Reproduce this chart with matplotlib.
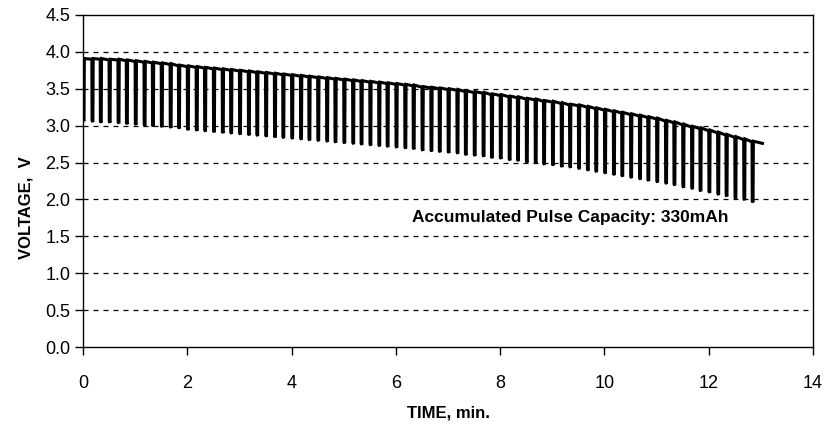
import matplotlib
matplotlib.use("Agg")
import matplotlib.pyplot as plt

# pulse discharge trace
# pulse start times (min), one 10 s pulse cycle each
pulse_time = [0.00, 0.17, 0.33, 0.50, 0.67, 0.83, 1.00, 1.17, 1.33, 1.50,
              1.67, 1.83, 2.00, 2.17, 2.33, 2.50, 2.67, 2.83, 3.00, 3.17,
              3.33, 3.50, 3.67, 3.83, 4.00, 4.17, 4.33, 4.50, 4.67, 4.83,
              5.00, 5.17, 5.33, 5.50, 5.67, 5.83, 6.00, 6.17, 6.33, 6.50,
              6.67, 6.83, 7.00, 7.17, 7.33, 7.50, 7.67, 7.83, 8.00, 8.17,
              8.33, 8.50, 8.67, 8.83, 9.00, 9.17, 9.33, 9.50, 9.67, 9.83,
              10.00, 10.17, 10.33, 10.50, 10.67, 10.83, 11.00, 11.17, 11.33, 11.50,
              11.67, 11.83, 12.00, 12.17, 12.33, 12.50, 12.67, 12.83]

# rest voltage just before each pulse (V)
rest_v = [3.90, 3.90, 3.90, 3.89, 3.89, 3.88, 3.87, 3.86, 3.85, 3.84,
          3.83, 3.81, 3.80, 3.79, 3.78, 3.77, 3.76, 3.75, 3.74, 3.73,
          3.72, 3.71, 3.70, 3.69, 3.68, 3.67, 3.66, 3.65, 3.64, 3.63,
          3.62, 3.61, 3.60, 3.59, 3.58, 3.57, 3.56, 3.55, 3.54, 3.52,
          3.51, 3.50, 3.49, 3.48, 3.46, 3.45, 3.44, 3.42, 3.41, 3.39,
          3.38, 3.36, 3.35, 3.33, 3.32, 3.30, 3.28, 3.27, 3.25, 3.23,
          3.21, 3.19, 3.17, 3.15, 3.13, 3.11, 3.09, 3.06, 3.04, 3.01,
          2.98, 2.96, 2.93, 2.90, 2.87, 2.84, 2.81, 2.78]

# minimum voltage under load for each pulse (V)
pulse_v = [3.08, 3.07, 3.06, 3.06, 3.05, 3.04, 3.03, 3.02, 3.01, 3.00,
           2.99, 2.98, 2.96, 2.95, 2.94, 2.93, 2.92, 2.91, 2.90, 2.89,
           2.88, 2.87, 2.86, 2.85, 2.84, 2.83, 2.82, 2.81, 2.80, 2.79,
           2.78, 2.77, 2.76, 2.75, 2.74, 2.73, 2.72, 2.71, 2.70, 2.68,
           2.67, 2.66, 2.65, 2.64, 2.62, 2.61, 2.60, 2.58, 2.57, 2.55,
           2.54, 2.52, 2.51, 2.49, 2.48, 2.46, 2.45, 2.43, 2.41, 2.39,
           2.37, 2.35, 2.33, 2.31, 2.29, 2.27, 2.25, 2.23, 2.21, 2.18,
           2.16, 2.13, 2.11, 2.08, 2.06, 2.03, 2.01, 1.98]

end_time = 13.03
end_v = 2.76

# build the trace: drop at pulse start, short load period, recovery
t, v = [], []
for i in range(len(pulse_time)):
    t0 = pulse_time[i]
    t += [t0, t0 + 0.004, t0 + 0.020, t0 + 0.026]
    v += [rest_v[i], pulse_v[i], pulse_v[i] - 0.02, rest_v[i] + 0.01]
t.append(end_time)
v.append(end_v)

plt.rcParams['font.family'] = ['Liberation Sans', 'DejaVu Sans']
narrow = ['Liberation Sans Narrow', 'Liberation Sans']

fig = plt.figure(figsize=(8.24, 4.26), dpi=100)
ax = fig.add_axes([0.1007, 0.1854, 0.886, 0.7794])

for y in [0.5, 1.0, 1.5, 2.0, 2.5, 3.0, 3.5, 4.0]:
    ax.axhline(y, color='black', lw=0.9, ls=(0, (4, 4)), zorder=1)

ax.plot(t, v, color='black', lw=2.2, solid_joinstyle='miter', zorder=3)

ax.set_xlim(0, 14)
ax.set_ylim(0, 4.5)
ax.set_xticks(range(0, 15, 2))
ax.set_yticks([0.0, 0.5, 1.0, 1.5, 2.0, 2.5, 3.0, 3.5, 4.0, 4.5])
ax.set_yticklabels(['%.1f' % y for y in ax.get_yticks()])
ax.tick_params(axis='both', direction='out', length=6, width=1, labelsize=13)
ax.tick_params(axis='y', pad=3)
ax.tick_params(axis='x', pad=14)
for lab in ax.get_xticklabels():
    lab.set_family(narrow)
for sp in ax.spines.values():
    sp.set_linewidth(1)

ax.set_xlabel('TIME, min.', fontsize=12, fontweight='bold',
              family=narrow, labelpad=10)
ax.set_ylabel('VOLTAGE,  V', fontsize=12, fontweight='bold')
ax.yaxis.set_label_coords(-0.068, 0.42)

ax.text(6.31, 1.76, 'Accumulated Pulse Capacity: 330mAh', fontsize=12.5,
        fontweight='bold', va='center', ha='left')

fig.savefig('out.png', dpi=100)
